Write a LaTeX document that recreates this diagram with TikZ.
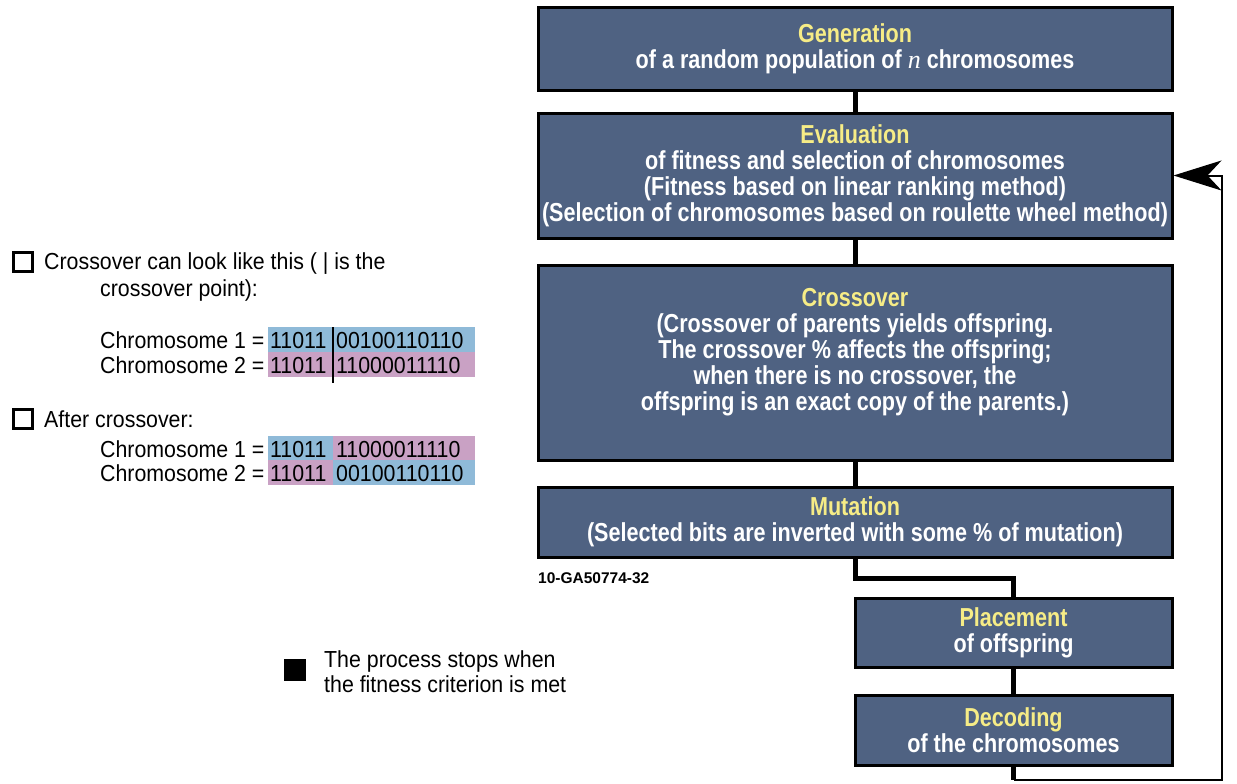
\documentclass[tikz,border=0pt]{standalone}
\usepackage{fontspec}
\setmainfont{Liberation Sans}
\newfontfamily\narrowfont[FakeStretch=0.83]{Liberation Sans}
\newfontfamily\notefont[FakeStretch=0.92]{Liberation Sans}
\newfontfamily\timesfont{Liberation Serif}
\usetikzlibrary{arrows.meta}
\definecolor{stagefill}{HTML}{4F6282}
\definecolor{stageyellow}{HTML}{F6EC86}
\definecolor{bitblue}{HTML}{8FBAD8}
\definecolor{bitpink}{HTML}{C9A1C4}
\tikzstyle{stage}=[
        draw=black,
        line width=3pt,
        fill=stagefill,
        text=white,
        align=center,
        inner sep=0pt,
        font=\narrowfont\bfseries\fontsize{26}{26}\selectfont
]
\tikzstyle{link}=[
        line width=5pt
]
\tikzstyle{loopback}=[
        line width=2pt,
        -{Stealth[length=48pt,width=30pt,inset=14pt]}
]
\tikzstyle{note}=[
        anchor=base west,
        inner sep=0pt,
        font=\notefont\fontsize{23.2}{26}\selectfont
]
\tikzstyle{tick}=[
        draw=black,
        line width=2.2pt,
        minimum size=19pt,
        inner sep=0pt
]
\newcommand{\stagehead}[1]{\textcolor{stageyellow}{#1}}

\begin{document}
\begin{tikzpicture}[x=1pt,y=-1pt]
                        \useasboundingbox (0,0) rectangle (1237,784);

                        % stages of the algorithm
                        \node[stage, minimum width=634pt, minimum height=82pt] (gen) at (855,49)
                            {\stagehead{Generation}\\of a random population of {\timesfont\itshape\mdseries n} chromosomes};
                        \node[stage, minimum width=634pt, minimum height=125pt] (eval) at (855,175.5)
                            {\stagehead{Evaluation}\\of fitness and selection of chromosomes\\(Fitness based on linear ranking method)\\(Selection of chromosomes based on roulette wheel method)};
                        \node[stage, minimum width=634pt, minimum height=195pt] (cross) at (855,362.5)
                            {\stagehead{Crossover}\\(Crossover of parents yields offspring.\\The crossover \% affects the offspring;\\when there is no crossover, the\\offspring is an exact copy of the parents.)\\[0pt]\mbox{}};
                        \node[stage, minimum width=634pt, minimum height=70pt] (mut) at (855,522)
                            {\stagehead{Mutation}\\(Selected bits are inverted with some \% of mutation)};
                        \node[stage, minimum width=317pt, minimum height=69pt] (place) at (1013.5,632.5)
                            {\stagehead{Placement}\\of offspring};
                        \node[stage, minimum width=317pt, minimum height=70pt] (decode) at (1013.5,730)
                            {\stagehead{Decoding}\\of the chromosomes};

                        \node[anchor=base west, inner sep=0pt, font=\bfseries\fontsize{15.5}{17}\selectfont] (code) at (538,583) {10-GA50774-32};

                        % connectors
                        \draw[link] (gen) -- (eval);
                        \draw[link] (eval) -- (cross);
                        \draw[link] (cross) -- (mut);
                        \draw[link] (mut.south) -- ++(0,20) -| (place.north);
                        \draw[link] (place) -- (decode);

                        \coordinate (fbcorner) at (1222,780);
                        \draw[link] (decode.south) -- (decode.south |- fbcorner);
                        \draw[loopback] (decode.south |- fbcorner) -- (fbcorner) |- (eval.east);

                        % crossover example
                        \node[tick] (box1) at (23,262) {};
                        \node[note] (q1) at (44,269) {Crossover can look like this ( | is the};
                        \node[note] (q1b) at (100,296) {crossover point):};
                        \node[tick] (box2) at (23,419) {};
                        \node[note] (q2) at (44,427) {After crossover:};

                        \foreach \row/\ry/\idx/\ca/\cb/\tail in {1/327/1/bitblue/bitblue/00100110110,
                                                                 2/352/2/bitpink/bitpink/11000011110,
                                                                 3/436/1/bitblue/bitpink/11000011110,
                                                                 4/460/2/bitpink/bitblue/00100110110} {
                            \fill[\ca] (268,\ry) rectangle (333,\ry+25);
                            \fill[\cb] (333,\ry) rectangle (475,\ry+25);
                            \node[note] (lab\row) at (100,\ry+21) {Chromosome \idx{} =};
                            \node[note] (head\row) at (270,\ry+21) {11011};
                            \node[note] (tail\row) at (336,\ry+21) {\tail};
                        }
                        \draw[line width=1.5pt] (333,327) -- (333,383);

                        % stop criterion
                        \node[tick, fill=black] (stopbox) at (295,670) {};
                        \node[note] (stop1) at (324,667) {The process stops when};
                        \node[note] (stop2) at (324,692) {the fitness criterion is met};
                    \end{tikzpicture}
\end{document}
